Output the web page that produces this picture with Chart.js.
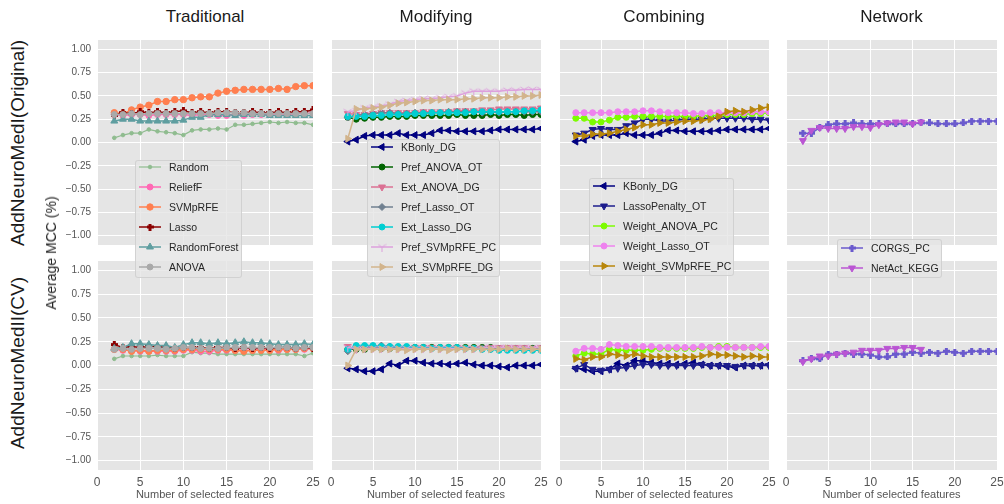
<!DOCTYPE html>
<html lang="en">
<head>
<meta charset="UTF-8">
<title>Average MCC vs number of selected features</title>
<script src="https://cdn.jsdelivr.net/npm/chart.js"></script>
<style>
  body { margin: 0; background: #fff; font-family: "Liberation Sans", Arial, sans-serif; }
  #wrap { position: relative; width: 1004px; height: 504px; overflow: hidden; }
  #wrap canvas.panel { position: absolute; }
  .lbl { position: absolute; white-space: nowrap; color: #262626; }
  .rot { transform: translate(-50%, -50%) rotate(-90deg); }
  .ctr { transform: translate(-50%, -50%); }
  .legend { position: absolute; box-sizing: border-box; background: rgba(229,229,229,0.8);
            border: 1px solid rgba(204,204,204,0.8); border-radius: 3px; z-index: 5; }
  .legend .item { position: absolute; left: 0; height: 20px; }
  .legend .item canvas { position: absolute; left: 2px; top: 0; }
  .legend .item span { position: absolute; left: 33px; top: 0; line-height: 20px; font-size: 10.5px; color: #262626; white-space: nowrap; }
</style>
</head>
<body>
<div id="wrap"></div>
<script>
// ---- data ----
const featureCounts = [2, 3, 4, 5, 6, 7, 8, 9, 10, 11, 12, 13, 14, 15, 16, 17, 18, 19, 20, 21, 22, 23, 24, 25];
const netActCounts = [2, 3, 4, 5, 6, 7, 8, 9, 10, 11, 12, 13, 14, 15, 16];
const xTicks = [0, 5, 10, 15, 20, 25];
const yTicks = [-1, -0.75, -0.5, -0.25, 0, 0.25, 0.5, 0.75, 1];
const columnTitles = ['Traditional', 'Modifying', 'Combining', 'Network'];
const rowTitles = ['AddNeuroMedI(Original)', 'AddNeuroMedII(CV)'];
const yAxisTitle = 'Average MCC (%)';
const xAxisTitle = 'Number of selected features';

// Original (top row)
const origRandom       = [0.05, 0.08, 0.10, 0.10, 0.14, 0.12, 0.11, 0.10, 0.08, 0.13, 0.14, 0.14,
                          0.15, 0.14, 0.19, 0.19, 0.20, 0.21, 0.22, 0.21, 0.22, 0.21, 0.21, 0.19];
const origReliefF      = [0.30, 0.29, 0.30, 0.30, 0.29, 0.30, 0.30, 0.30, 0.30, 0.29, 0.30, 0.30,
                          0.29, 0.29, 0.30, 0.29, 0.30, 0.30, 0.30, 0.31, 0.30, 0.31, 0.31, 0.32];
const origSVMpRFE      = [0.32, 0.31, 0.35, 0.38, 0.40, 0.44, 0.44, 0.46, 0.46, 0.48, 0.49, 0.49,
                          0.53, 0.55, 0.56, 0.57, 0.57, 0.57, 0.57, 0.58, 0.57, 0.60, 0.61, 0.61];
const origLasso        = [0.29, 0.32, 0.31, 0.33, 0.32, 0.33, 0.32, 0.33, 0.34, 0.32, 0.33, 0.32,
                          0.33, 0.33, 0.32, 0.32, 0.33, 0.32, 0.32, 0.33, 0.32, 0.33, 0.33, 0.35];
const origRandomForest = [0.23, 0.25, 0.25, 0.23, 0.23, 0.23, 0.23, 0.23, 0.24, 0.27, 0.27, 0.30,
                          0.30, 0.30, 0.29, 0.30, 0.30, 0.30, 0.29, 0.29, 0.29, 0.29, 0.29, 0.29];
const origANOVA        = [0.30, 0.30, 0.31, 0.30, 0.31, 0.31, 0.31, 0.31, 0.31, 0.31, 0.31, 0.31,
                          0.32, 0.32, 0.32, 0.32, 0.31, 0.31, 0.31, 0.31, 0.31, 0.31, 0.31, 0.31];

const origKBonly       = [0.01, 0.03, 0.07, 0.08, 0.08, 0.08, 0.10, 0.08, 0.08, 0.08, 0.10, 0.13,
                          0.13, 0.12, 0.12, 0.12, 0.12, 0.13, 0.14, 0.14, 0.14, 0.14, 0.14, 0.15];
const origPrefANOVA    = [0.27, 0.25, 0.26, 0.27, 0.27, 0.28, 0.28, 0.28, 0.29, 0.29, 0.29, 0.29,
                          0.29, 0.30, 0.29, 0.29, 0.29, 0.30, 0.29, 0.30, 0.30, 0.29, 0.30, 0.30];
const origExtANOVA     = [0.31, 0.30, 0.30, 0.31, 0.32, 0.32, 0.32, 0.32, 0.32, 0.33, 0.33, 0.33,
                          0.33, 0.34, 0.34, 0.34, 0.35, 0.35, 0.36, 0.36, 0.36, 0.36, 0.36, 0.37];
const origPrefLasso    = [0.27, 0.29, 0.30, 0.31, 0.32, 0.32, 0.31, 0.31, 0.32, 0.32, 0.32, 0.32,
                          0.33, 0.33, 0.33, 0.33, 0.32, 0.33, 0.32, 0.33, 0.33, 0.33, 0.33, 0.33];
const origExtLasso     = [0.28, 0.28, 0.28, 0.29, 0.29, 0.30, 0.30, 0.30, 0.31, 0.31, 0.32, 0.32,
                          0.32, 0.32, 0.32, 0.33, 0.33, 0.33, 0.33, 0.33, 0.33, 0.34, 0.34, 0.35];
const origPrefSVMpRFE  = [0.33, 0.34, 0.37, 0.38, 0.39, 0.41, 0.44, 0.45, 0.46, 0.47, 0.47, 0.48,
                          0.49, 0.50, 0.53, 0.55, 0.55, 0.55, 0.55, 0.56, 0.56, 0.57, 0.57, 0.57];
const origExtSVMpRFE   = [0.04, 0.36, 0.36, 0.37, 0.38, 0.40, 0.42, 0.43, 0.44, 0.45, 0.45, 0.46,
                          0.46, 0.46, 0.47, 0.47, 0.48, 0.48, 0.48, 0.49, 0.49, 0.50, 0.50, 0.51];

const origLassoPenalty = [0.08, 0.10, 0.14, 0.15, 0.14, 0.14, 0.18, 0.21, 0.25, 0.25, 0.23, 0.23,
                          0.24, 0.25, 0.25, 0.25, 0.26, 0.26, 0.26, 0.26, 0.26, 0.25, 0.25, 0.24];
const origWeightANOVA  = [0.26, 0.26, 0.22, 0.22, 0.24, 0.27, 0.27, 0.28, 0.28, 0.28, 0.28, 0.28,
                          0.28, 0.28, 0.28, 0.29, 0.29, 0.29, 0.30, 0.30, 0.30, 0.31, 0.31, 0.32];
const origWeightLasso  = [0.32, 0.32, 0.32, 0.32, 0.32, 0.33, 0.33, 0.33, 0.34, 0.34, 0.33, 0.32,
                          0.32, 0.32, 0.31, 0.31, 0.32, 0.32, 0.32, 0.32, 0.32, 0.33, 0.33, 0.33];
const origWeightSVMpRFE= [0.07, 0.07, 0.09, 0.09, 0.10, 0.12, 0.14, 0.16, 0.19, 0.19, 0.21, 0.21,
                          0.22, 0.23, 0.23, 0.24, 0.25, 0.28, 0.33, 0.34, 0.33, 0.35, 0.37, 0.38];

const origCORGS        = [0.10, 0.10, 0.16, 0.19, 0.20, 0.20, 0.21, 0.20, 0.20, 0.20, 0.20, 0.20,
                          0.20, 0.20, 0.21, 0.21, 0.20, 0.20, 0.20, 0.21, 0.23, 0.23, 0.23, 0.23];
const origNetAct       = [0.02, 0.13, 0.16, 0.15, 0.15, 0.15, 0.17, 0.17, 0.16, 0.19, 0.21, 0.22,
                          0.22, 0.20, 0.22];

// CV (bottom row)
const cvRandom         = [0.07, 0.10, 0.10, 0.10, 0.10, 0.11, 0.10, 0.10, 0.10, 0.14, 0.13, 0.13,
                          0.12, 0.12, 0.12, 0.12, 0.12, 0.12, 0.12, 0.12, 0.12, 0.12, 0.10, 0.13];
const cvReliefF        = [0.17, 0.16, 0.16, 0.15, 0.15, 0.15, 0.15, 0.15, 0.16, 0.16, 0.15, 0.15,
                          0.16, 0.16, 0.16, 0.16, 0.16, 0.17, 0.17, 0.16, 0.17, 0.17, 0.17, 0.18];
const cvSVMpRFE        = [0.17, 0.17, 0.15, 0.16, 0.15, 0.16, 0.16, 0.16, 0.17, 0.17, 0.17, 0.17,
                          0.17, 0.17, 0.16, 0.15, 0.16, 0.16, 0.16, 0.17, 0.17, 0.17, 0.18, 0.18];
const cvLasso          = [0.22, 0.19, 0.20, 0.19, 0.20, 0.20, 0.19, 0.18, 0.19, 0.19, 0.19, 0.18,
                          0.19, 0.19, 0.18, 0.19, 0.18, 0.19, 0.18, 0.19, 0.19, 0.18, 0.19, 0.18];
const cvRandomForest   = [0.18, 0.19, 0.23, 0.23, 0.22, 0.21, 0.21, 0.19, 0.22, 0.24, 0.24, 0.23,
                          0.24, 0.23, 0.24, 0.25, 0.24, 0.24, 0.23, 0.22, 0.22, 0.22, 0.23, 0.22];
const cvANOVA          = [0.17, 0.18, 0.17, 0.18, 0.18, 0.18, 0.17, 0.18, 0.19, 0.19, 0.18, 0.18,
                          0.18, 0.19, 0.19, 0.19, 0.19, 0.19, 0.19, 0.19, 0.19, 0.18, 0.19, 0.19];

const cvKBonly         = [-0.03, -0.04, -0.06, -0.06, -0.04, 0.02, 0.00, 0.05, 0.05, 0.03, 0.02, 0.02,
                          0.01, 0.02, 0.03, 0.01, 0.00, 0.00, -0.01, -0.02, 0.00, 0.00, 0.00, 0.01];
const cvPrefANOVA      = [0.17, 0.17, 0.17, 0.19, 0.18, 0.18, 0.19, 0.19, 0.19, 0.19, 0.19, 0.19,
                          0.19, 0.19, 0.19, 0.19, 0.19, 0.19, 0.18, 0.18, 0.18, 0.18, 0.18, 0.18];
const cvExtANOVA       = [0.20, 0.17, 0.18, 0.19, 0.18, 0.19, 0.18, 0.18, 0.19, 0.19, 0.19, 0.18,
                          0.18, 0.19, 0.18, 0.18, 0.18, 0.19, 0.19, 0.19, 0.19, 0.19, 0.18, 0.19];
const cvPrefLasso      = [0.15, 0.20, 0.20, 0.20, 0.21, 0.20, 0.19, 0.19, 0.19, 0.18, 0.18, 0.18,
                          0.18, 0.18, 0.18, 0.18, 0.18, 0.17, 0.17, 0.17, 0.17, 0.17, 0.17, 0.17];
const cvExtLasso       = [0.17, 0.21, 0.21, 0.21, 0.20, 0.20, 0.20, 0.20, 0.19, 0.19, 0.18, 0.19,
                          0.19, 0.19, 0.18, 0.18, 0.17, 0.17, 0.16, 0.16, 0.16, 0.16, 0.16, 0.16];
const cvPrefSVMpRFE    = [0.19, 0.18, 0.18, 0.18, 0.18, 0.18, 0.18, 0.18, 0.18, 0.18, 0.18, 0.18,
                          0.18, 0.18, 0.18, 0.18, 0.19, 0.19, 0.19, 0.19, 0.19, 0.19, 0.19, 0.19];
const cvExtSVMpRFE     = [0.00, 0.17, 0.17, 0.17, 0.17, 0.17, 0.17, 0.16, 0.17, 0.17, 0.17, 0.17,
                          0.16, 0.17, 0.17, 0.17, 0.17, 0.17, 0.17, 0.18, 0.17, 0.17, 0.17, 0.17];

const cvLassoPenalty   = [-0.03, 0.01, -0.04, -0.05, -0.04, -0.03, -0.02, 0.00, 0.01, 0.01, 0.00, 0.00,
                          0.00, 0.00, 0.00, 0.01, 0.00, 0.00, 0.00, -0.01, 0.00, 0.00, 0.00, 0.00];
const cvWeightANOVA    = [0.10, 0.13, 0.12, 0.12, 0.17, 0.16, 0.16, 0.16, 0.16, 0.17, 0.18, 0.18,
                          0.18, 0.18, 0.18, 0.19, 0.19, 0.20, 0.20, 0.19, 0.19, 0.19, 0.19, 0.19];
const cvWeightLasso    = [0.15, 0.18, 0.18, 0.17, 0.22, 0.21, 0.20, 0.20, 0.20, 0.20, 0.19, 0.19,
                          0.19, 0.19, 0.19, 0.20, 0.19, 0.19, 0.19, 0.19, 0.19, 0.19, 0.20, 0.20];
const cvWeightSVMpRFE  = [0.07, 0.06, 0.09, 0.09, 0.12, 0.11, 0.10, 0.12, 0.10, 0.09, 0.09, 0.09,
                          0.09, 0.09, 0.09, 0.10, 0.12, 0.11, 0.11, 0.10, 0.09, 0.10, 0.09, 0.09];

const cvCORGS          = [0.05, 0.07, 0.07, 0.12, 0.12, 0.13, 0.12, 0.12, 0.11, 0.09, 0.09, 0.12,
                          0.12, 0.14, 0.13, 0.14, 0.13, 0.15, 0.14, 0.13, 0.15, 0.15, 0.15, 0.15];
const cvNetAct         = [0.04, 0.07, 0.10, 0.10, 0.12, 0.13, 0.14, 0.16, 0.16, 0.16, 0.18, 0.18,
                          0.19, 0.19, 0.17];

// ---- marker images for shapes chart.js lacks ----
function plusMarker(color) {
    const c = document.createElement('canvas');
    c.width = 7; c.height = 7;
    const g = c.getContext('2d');
    g.fillStyle = color;
    g.fillRect(0, 2, 7, 3);
    g.fillRect(2, 0, 3, 7);
    return c;
}
function triDownMarker(color) {
    const c = document.createElement('canvas');
    c.width = 9; c.height = 9;
    const g = c.getContext('2d');
    g.strokeStyle = color;
    g.lineWidth = 1;
    g.beginPath();
    g.moveTo(4.5, 4.5); g.lineTo(4.5, 9);
    g.moveTo(4.5, 4.5); g.lineTo(0.5, 2);
    g.moveTo(4.5, 4.5); g.lineTo(8.5, 2);
    g.stroke();
    return c;
}

const seriesStyle = {
    Random:            { color: '#8fbc8f', shape: 'circle', r: 1.8, lw: 1.2 },
    ReliefF:           { color: '#ff69b4', shape: 'circle', r: 3, lw: 1.5 },
    SVMpRFE:           { color: '#ff7f50', shape: 'circle', r: 3.2, lw: 1.5 },
    Lasso:             { color: '#8b0000', img: plusMarker('#8b0000'), lw: 1.5 },
    RandomForest:      { color: '#5f9ea0', shape: 'triangle', r: 4, lw: 1.5 },
    ANOVA:             { color: '#a9a9a9', shape: 'circle', r: 3, lw: 1.5 },
    KBonly_DG:         { color: '#000080', shape: 'triangle', rot: -90, r: 4, lw: 1.5 },
    Pref_ANOVA_OT:     { color: '#006400', shape: 'circle', r: 3, lw: 1.5 },
    Ext_ANOVA_DG:      { color: '#db7093', shape: 'triangle', rot: 180, r: 4, lw: 1.5 },
    Pref_Lasso_OT:     { color: '#708090', shape: 'rectRot', r: 3.5, lw: 1.5 },
    Ext_Lasso_DG:      { color: '#00ced1', shape: 'circle', r: 3, lw: 1.5 },
    Pref_SVMpRFE_PC:   { color: '#dda0dd', img: triDownMarker('#dda0dd'), lw: 1.5 },
    Ext_SVMpRFE_DG:    { color: '#d2b48c', shape: 'triangle', rot: 90, r: 4, lw: 1.5 },
    LassoPenalty_OT:   { color: '#1c1c8c', shape: 'triangle', rot: 180, r: 4, lw: 1.5 },
    Weight_ANOVA_PC:   { color: '#7cfc00', shape: 'circle', r: 3, lw: 1.5 },
    Weight_Lasso_OT:   { color: '#ee82ee', shape: 'circle', r: 3, lw: 1.5 },
    Weight_SVMpRFE_PC: { color: '#b8860b', shape: 'triangle', rot: 90, r: 4, lw: 1.5 },
    CORGS_PC:          { color: '#6a5acd', img: plusMarker('#6a5acd'), lw: 1.5 },
    NetAct_KEGG:       { color: '#ba55d3', shape: 'triangle', rot: 180, r: 4, lw: 1.5 }
};

// panels: [row][col] -> list of [name, xs, ys]
const panelSeries = [
    [
        [['Random', featureCounts, origRandom], ['ReliefF', featureCounts, origReliefF],
         ['SVMpRFE', featureCounts, origSVMpRFE], ['Lasso', featureCounts, origLasso],
         ['RandomForest', featureCounts, origRandomForest], ['ANOVA', featureCounts, origANOVA]],
        [['KBonly_DG', featureCounts, origKBonly], ['Pref_ANOVA_OT', featureCounts, origPrefANOVA],
         ['Ext_ANOVA_DG', featureCounts, origExtANOVA], ['Pref_Lasso_OT', featureCounts, origPrefLasso],
         ['Ext_Lasso_DG', featureCounts, origExtLasso], ['Pref_SVMpRFE_PC', featureCounts, origPrefSVMpRFE],
         ['Ext_SVMpRFE_DG', featureCounts, origExtSVMpRFE]],
        [['KBonly_DG', featureCounts, origKBonly], ['LassoPenalty_OT', featureCounts, origLassoPenalty],
         ['Weight_ANOVA_PC', featureCounts, origWeightANOVA], ['Weight_Lasso_OT', featureCounts, origWeightLasso],
         ['Weight_SVMpRFE_PC', featureCounts, origWeightSVMpRFE]],
        [['CORGS_PC', featureCounts, origCORGS], ['NetAct_KEGG', netActCounts, origNetAct]]
    ],
    [
        [['Random', featureCounts, cvRandom], ['ReliefF', featureCounts, cvReliefF],
         ['SVMpRFE', featureCounts, cvSVMpRFE], ['Lasso', featureCounts, cvLasso],
         ['RandomForest', featureCounts, cvRandomForest], ['ANOVA', featureCounts, cvANOVA]],
        [['KBonly_DG', featureCounts, cvKBonly], ['Pref_ANOVA_OT', featureCounts, cvPrefANOVA],
         ['Ext_ANOVA_DG', featureCounts, cvExtANOVA], ['Pref_Lasso_OT', featureCounts, cvPrefLasso],
         ['Ext_Lasso_DG', featureCounts, cvExtLasso], ['Pref_SVMpRFE_PC', featureCounts, cvPrefSVMpRFE],
         ['Ext_SVMpRFE_DG', featureCounts, cvExtSVMpRFE]],
        [['KBonly_DG', featureCounts, cvKBonly], ['LassoPenalty_OT', featureCounts, cvLassoPenalty],
         ['Weight_ANOVA_PC', featureCounts, cvWeightANOVA], ['Weight_Lasso_OT', featureCounts, cvWeightLasso],
         ['Weight_SVMpRFE_PC', featureCounts, cvWeightSVMpRFE]],
        [['CORGS_PC', featureCounts, cvCORGS], ['NetAct_KEGG', netActCounts, cvNetAct]]
    ]
];

// ---- layout ----
const areaLeft = [97, 331, 559, 786];
const areaRight = [313, 541, 769, 997];
const areaTop = [35, 256];
const areaBottom = [250, 470];
const PAD = 10;

const legendBoxes = [
    { col: 0, left: 135, top: 160, width: 107, height: 118, first: 7 },
    { col: 1, left: 367, top: 139, width: 133, height: 138, first: 8 },
    { col: 2, left: 589, top: 178, width: 145, height: 98, first: 8 },
    { col: 3, left: 837, top: 239, width: 105, height: 39, first: 9 }
];

const wrap = document.getElementById('wrap');

const panelBackground = {
    id: 'panelBackground',
    beforeDraw: (chart) => {
        const a = chart.chartArea;
        chart.ctx.save();
        chart.ctx.fillStyle = '#e5e5e5';
        chart.ctx.fillRect(a.left, a.top, a.right - a.left, a.bottom - a.top);
        chart.ctx.restore();
    }
};

function fmtTick(v) {
    return v.toFixed(2).replace('-', '\u2212');
}

function makePanel(row, col) {
    const firstCol = col === 0;
    const lastRow = row === 1;
    const yAxisW = firstCol ? 57 : 0;
    const xAxisH = lastRow ? 34 : 0;
    const left = firstCol ? areaLeft[0] - yAxisW : areaLeft[col] - PAD;
    const top = areaTop[row];
    const width = areaRight[col] + PAD - left;
    const height = areaBottom[row] - top + xAxisH;

    const canvas = document.createElement('canvas');
    canvas.className = 'panel';
    canvas.width = width; canvas.height = height;
    canvas.style.left = left + 'px';
    canvas.style.top = top + 'px';
    canvas.style.width = width + 'px';
    canvas.style.height = height + 'px';
    wrap.appendChild(canvas);

    const series = panelSeries[row][col];
    const datasets = series.map(([name, xs, ys], i) => {
        const st = seriesStyle[name];
        return {
            label: name,
            data: xs.map((x, k) => ({ x: x, y: ys[k] })),
            borderColor: st.color,
            backgroundColor: st.color,
            borderWidth: st.lw,
            pointStyle: st.img || st.shape,
            pointRotation: st.rot || 0,
            pointRadius: st.r || 4,
            pointBorderWidth: 1,
            pointBackgroundColor: st.color,
            pointBorderColor: st.color,
            tension: 0,
            clip: 0,
            order: series.length - i
        };
    });

    new Chart(canvas.getContext('2d'), {
        type: 'line',
        data: { datasets: datasets },
        options: {
            responsive: false,
            animation: false,
            devicePixelRatio: 1,
            layout: { padding: { left: firstCol ? 0 : PAD, right: PAD, top: 0, bottom: 0 } },
            plugins: { legend: { display: false }, tooltip: { enabled: false } },
            events: [],
            scales: {
                x: {
                    type: 'linear',
                    min: 0, max: 25,
                    afterBuildTicks: (s) => { s.ticks = xTicks.map(v => ({ value: v })); },
                    afterFit: (s) => { s.height = xAxisH; s.paddingLeft = 0; s.paddingRight = 0; },
                    border: { display: false },
                    grid: { color: '#ffffff', lineWidth: 1, drawTicks: false },
                    ticks: {
                        display: lastRow,
                        padding: 5,
                        color: '#555555',
                        font: { family: '"Liberation Sans", Arial, sans-serif', size: 12 },
                        maxRotation: 0,
                        autoSkip: false
                    },
                    title: {
                        display: lastRow,
                        text: xAxisTitle,
                        color: '#555555',
                        font: { family: '"Liberation Sans", Arial, sans-serif', size: 11 },
                        padding: { top: 0, bottom: 2 }
                    }
                },
                y: {
                    type: 'linear',
                    min: -1.1, max: 1.1,
                    afterBuildTicks: (s) => { s.ticks = yTicks.map(v => ({ value: v })); },
                    afterFit: (s) => { s.width = yAxisW; s.paddingTop = 0; s.paddingBottom = 0; },
                    border: { display: false },
                    grid: { color: '#ffffff', lineWidth: 1, drawTicks: false },
                    ticks: {
                        display: firstCol,
                        padding: 6,
                        color: '#555555',
                        font: { family: '"Liberation Sans", Arial, sans-serif', size: 10 },
                        callback: (v) => fmtTick(v),
                        autoSkip: false
                    }
                }
            }
        },
        plugins: [panelBackground]
    });
}

function addLabel(text, x, y, size, cls, color) {
    const d = document.createElement('div');
    d.className = 'lbl ' + cls;
    d.textContent = text;
    d.style.left = x + 'px';
    d.style.top = y + 'px';
    d.style.fontSize = size + 'px';
    if (color) d.style.color = color;
    wrap.appendChild(d);
}

function drawSample(cv, st) {
    const g = cv.getContext('2d');
    g.strokeStyle = st.color;
    g.fillStyle = st.color;
    g.lineWidth = st.lw;
    g.beginPath(); g.moveTo(1, 10); g.lineTo(23, 10); g.stroke();
    g.lineWidth = 1;
    if (Chart.helpers && Chart.helpers.drawPoint) {
        Chart.helpers.drawPoint(g, {
            pointStyle: st.img || st.shape,
            rotation: st.rot || 0,
            radius: st.r || 4,
            borderWidth: 1
        }, 12, 10);
    } else {
        g.beginPath(); g.arc(12, 10, st.r || 3, 0, Math.PI * 2); g.fill();
    }
}

function makeLegend(box) {
    const div = document.createElement('div');
    div.className = 'legend';
    div.style.left = box.left + 'px';
    div.style.top = box.top + 'px';
    div.style.width = box.width + 'px';
    div.style.height = box.height + 'px';
    panelSeries[0][box.col].forEach(([name], i) => {
        const item = document.createElement('div');
        item.className = 'item';
        item.style.top = (box.first - 10 + i * 20 - 1) + 'px';
        const cv = document.createElement('canvas');
        cv.width = 25; cv.height = 20;
        item.appendChild(cv);
        const sp = document.createElement('span');
        sp.textContent = name;
        item.appendChild(sp);
        div.appendChild(item);
        drawSample(cv, seriesStyle[name]);
    });
    wrap.appendChild(div);
}

for (let r = 0; r < 2; r++) {
    for (let c = 0; c < 4; c++) makePanel(r, c);
}
columnTitles.forEach((t, c) => addLabel(t, (areaLeft[c] + areaRight[c]) / 2, 17, 17, 'ctr', '#1a1a1a'));
rowTitles.forEach((t, r) => addLabel(t, 18, (areaTop[r] + areaBottom[r]) / 2, 19, 'rot', '#1a1a1a'));
addLabel(yAxisTitle, 51, 253, 14, 'rot', '#262626');
legendBoxes.forEach(makeLegend);
</script>
</body>
</html>
